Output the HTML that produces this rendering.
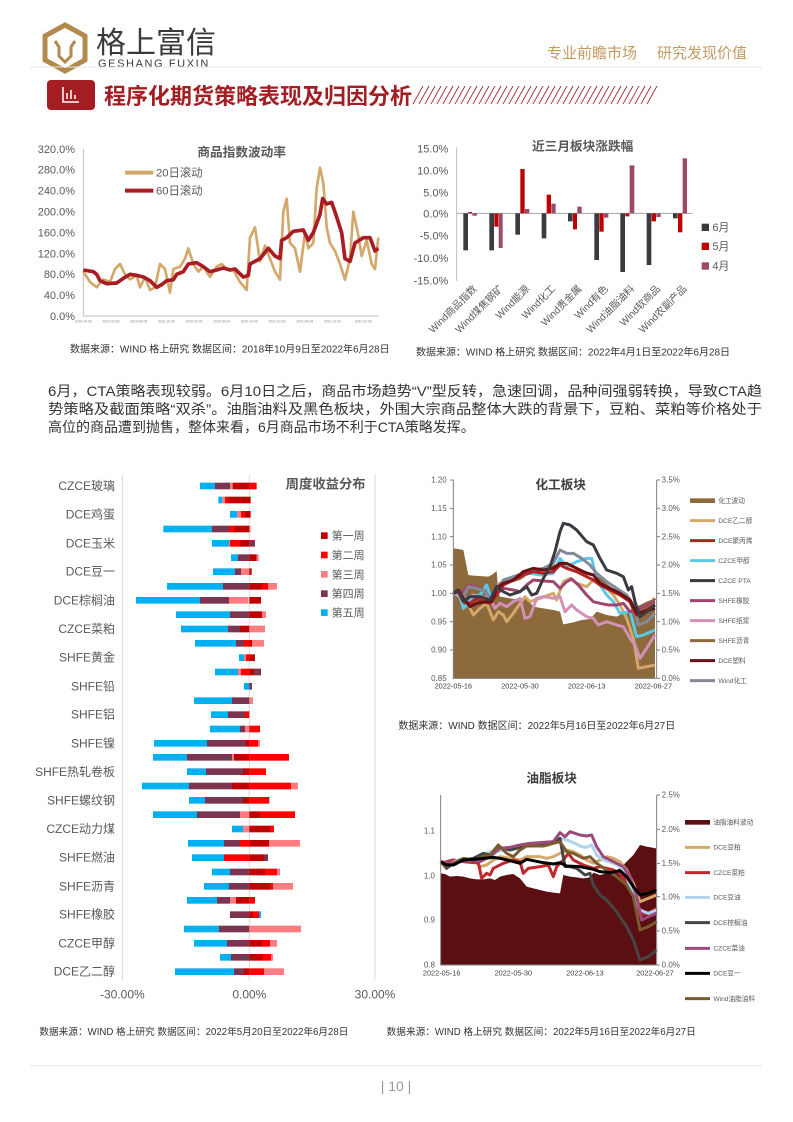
<!DOCTYPE html>
<html><head><meta charset="utf-8"><style>
html,body{margin:0;padding:0;background:#fff;}
svg{display:block;font-family:"Liberation Sans","Noto Sans CJK SC",sans-serif;}
</style></head><body>
<svg width="793" height="1122" viewBox="0 0 793 1122" xmlns="http://www.w3.org/2000/svg">
<!-- header -->
<polygon points="65,25 85,36 85,60 65,71 45,60 45,36" fill="none" stroke="#b28a4e" stroke-width="5"/>
<path d="M55,41 L59,47 L59,56 L65,62 L71,56 L71,47 L75,41" fill="none" stroke="#b28a4e" stroke-width="3"/>
<text x="96" y="53" font-size="30" fill="#3a3a3a">格上富信</text>
<text x="98" y="67" font-size="11" fill="#3a3a3a" letter-spacing="1.6">GESHANG FUXIN</text>
<text x="547" y="58" font-size="15" fill="#c49a63">专业前瞻市场</text>
<text x="657" y="58" font-size="15" fill="#c49a63">研究发现价值</text>
<line x1="30" y1="67" x2="762" y2="67" stroke="#e6e6e6" stroke-width="1"/>
<rect x="47" y="80" width="48" height="30" rx="4" fill="#a31e22"/>
<path d="M63,87 V102 H79 M67,99 V93 M71,99 V90 M75,99 V95" stroke="#fff" stroke-width="1.5" fill="none"/>
<text x="104" y="104" font-size="22" fill="#a31e22" font-weight="bold">程序化期货策略表现及归因分析</text>
<g stroke="#a31e22" stroke-width="0.8">
<path d="M413,104L423,86M419,104L429,86M425,104L435,86M431,104L441,86M437,104L447,86M443,104L453,86M449,104L459,86M455,104L465,86M461,104L471,86M467,104L477,86M473,104L483,86M479,104L489,86M485,104L495,86M491,104L501,86M497,104L507,86M503,104L513,86M509,104L519,86M515,104L525,86M521,104L531,86M527,104L537,86M533,104L543,86M539,104L549,86M545,104L555,86M551,104L561,86M557,104L567,86M563,104L573,86M569,104L579,86M575,104L585,86M581,104L591,86M587,104L597,86M593,104L603,86M599,104L609,86M605,104L615,86M611,104L621,86M617,104L627,86M623,104L633,86M629,104L639,86M635,104L645,86M641,104L651,86M647,104L657,86"/>
</g>

<!-- top-left chart -->
<g transform="translate(30,130) scale(0.33333)">
<g font-size="33" fill="#595959" text-anchor="end">
<text x="135" y="69">320.0%</text><text x="135" y="131">280.0%</text><text x="135" y="194">240.0%</text><text x="135" y="256">200.0%</text><text x="135" y="319">160.0%</text><text x="135" y="382">120.0%</text><text x="135" y="444">80.0%</text><text x="135" y="507">40.0%</text><text x="135" y="570">0.0%</text>
</g>
<line x1="160" y1="57" x2="160" y2="558" stroke="#bfbfbf" stroke-width="3"/>
<line x1="160" y1="558" x2="1045" y2="558" stroke="#bfbfbf" stroke-width="3"/>
<g font-size="10" fill="#888" text-anchor="middle">
<text x="160" y="578">2018-10-09</text><text x="243" y="578">2019-02-09</text><text x="326" y="578">2019-06-09</text><text x="409" y="578">2019-10-09</text><text x="492" y="578">2020-02-09</text><text x="575" y="578">2020-06-09</text><text x="658" y="578">2020-10-09</text><text x="741" y="578">2021-02-09</text><text x="824" y="578">2021-06-09</text><text x="907" y="578">2021-10-09</text><text x="1000" y="578">2022-02-09</text>
</g>
<text x="635" y="80" font-size="38" font-weight="bold" fill="#595959" text-anchor="middle">商品指数波动率</text>
<line x1="285" y1="128" x2="370" y2="128" stroke="#d4a76a" stroke-width="12"/>
<text x="378" y="140" font-size="34" fill="#595959">20日滚动</text>
<line x1="285" y1="182" x2="370" y2="182" stroke="#a81c22" stroke-width="12"/>
<text x="378" y="194" font-size="34" fill="#595959">60日滚动</text>
<polyline fill="none" stroke="#d4a76a" stroke-width="8" stroke-linejoin="round" points="160,425 180,456 200,472 220,448 240,456 255,417 270,402 285,433 300,448 320,436 330,472 345,441 360,480 375,472 390,402 405,417 420,488 430,417 450,410 465,386 475,355 490,402 505,425 520,410 540,441 560,410 575,402 590,417 610,420 630,456 650,480 660,323 675,292 690,394 705,347 720,386 735,425 750,449 760,245 770,206 780,339 795,355 810,425 825,308 835,355 850,339 860,175 870,113 880,159 890,292 900,339 915,363 930,402 945,449 960,386 970,245 985,316 995,378 1010,331 1025,402 1035,417 1045,323"/>
<polyline fill="none" stroke="#a81c22" stroke-width="11" stroke-linejoin="round" points="160,420 190,425 200,433 210,452 230,461 260,459 280,445 300,433 320,436 340,441 360,452 380,472 395,464 410,452 430,449 440,433 460,425 475,402 500,398 520,410 540,425 560,420 580,414 600,420 615,417 640,441 655,436 660,402 690,386 715,355 735,378 750,386 755,331 770,323 790,304 820,300 835,331 850,308 870,253 878,206 890,222 905,217 920,261 935,308 945,386 960,394 975,339 1000,323 1020,323 1035,363 1045,355"/>
<text x="120" y="667" font-size="30" fill="#333">数据来源：WIND   格上研究   数据区间：2018年10月9日至2022年6月28日</text>
</g>

<!-- top-right chart -->
<g transform="translate(400,130) scale(0.33333)">
<g font-size="33" fill="#595959" text-anchor="end">
<text x="145" y="67">15.0%</text><text x="145" y="133">10.0%</text><text x="145" y="200">5.0%</text><text x="145" y="262">0.0%</text><text x="145" y="329">-5.0%</text><text x="145" y="396">-10.0%</text><text x="145" y="463">-15.0%</text>
</g>
<line x1="170" y1="52" x2="170" y2="453" stroke="#bfbfbf" stroke-width="3"/>
<line x1="170" y1="250" x2="878" y2="250" stroke="#a6a6a6" stroke-width="3"/>
<text x="548" y="62" font-size="38" font-weight="bold" fill="#595959" text-anchor="middle">近三月板块涨跌幅</text>
<g>
<rect x="190" y="250" width="14" height="111" fill="#3a3b40"/><rect x="205" y="246" width="11" height="4" fill="#c00000"/><rect x="217" y="250" width="14" height="7" fill="#9b4a6b"/>
<rect x="268" y="250" width="14" height="111" fill="#3a3b40"/><rect x="283" y="250" width="12" height="40" fill="#c00000"/><rect x="296" y="250" width="12" height="104" fill="#9b4a6b"/>
<rect x="346" y="250" width="14" height="64" fill="#3a3b40"/><rect x="361" y="117" width="13" height="133" fill="#c00000"/><rect x="375" y="237" width="13" height="13" fill="#9b4a6b"/>
<rect x="425" y="250" width="14" height="75" fill="#3a3b40"/><rect x="440" y="194" width="13" height="56" fill="#c00000"/><rect x="454" y="221" width="13" height="29" fill="#9b4a6b"/>
<rect x="504" y="250" width="14" height="24" fill="#3a3b40"/><rect x="519" y="250" width="12" height="48" fill="#c00000"/><rect x="532" y="230" width="13" height="20" fill="#9b4a6b"/>
<rect x="583" y="250" width="14" height="140" fill="#3a3b40"/><rect x="598" y="250" width="13" height="55" fill="#c00000"/><rect x="612" y="250" width="13" height="13" fill="#9b4a6b"/>
<rect x="661" y="250" width="14" height="176" fill="#3a3b40"/><rect x="676" y="250" width="12" height="9" fill="#c00000"/><rect x="689" y="106" width="14" height="144" fill="#9b4a6b"/>
<rect x="740" y="250" width="14" height="155" fill="#3a3b40"/><rect x="755" y="250" width="13" height="24" fill="#c00000"/><rect x="769" y="250" width="13" height="11" fill="#9b4a6b"/>
<rect x="819" y="250" width="14" height="15" fill="#3a3b40"/><rect x="834" y="250" width="13" height="57" fill="#c00000"/><rect x="848" y="85" width="13" height="165" fill="#9b4a6b"/>
</g>
<rect x="905" y="281" width="22" height="22" fill="#3a3b40"/><text x="937" y="303" font-size="33" fill="#595959">6月</text>
<rect x="905" y="338" width="22" height="22" fill="#c00000"/><text x="937" y="360" font-size="33" fill="#595959">5月</text>
<rect x="905" y="397" width="22" height="22" fill="#9b4a6b"/><text x="937" y="419" font-size="33" fill="#595959">4月</text>
<g font-size="30" fill="#595959" text-anchor="end">
<text transform="translate(232,478) rotate(-45)">Wind商品指数</text>
<text transform="translate(311,478) rotate(-45)">Wind煤焦钢矿</text>
<text transform="translate(390,478) rotate(-45)">Wind能源</text>
<text transform="translate(468,478) rotate(-45)">Wind化工</text>
<text transform="translate(547,478) rotate(-45)">Wind贵金属</text>
<text transform="translate(626,478) rotate(-45)">Wind有色</text>
<text transform="translate(705,478) rotate(-45)">Wind油脂油料</text>
<text transform="translate(783,478) rotate(-45)">Wind软商品</text>
<text transform="translate(862,478) rotate(-45)">Wind农副产品</text>
</g>
<text x="48" y="676" font-size="30" fill="#333">数据来源：WIND     格上研究  数据区间：2022年4月1日至2022年6月28日</text>
</g>

<!-- paragraph -->
<g font-size="14" fill="#333">
<text x="48" y="396" textLength="714" lengthAdjust="spacingAndGlyphs">6月，CTA策略表现较弱。6月10日之后，商品市场趋势“V”型反转，急速回调，品种间强弱转换，导致CTA趋</text>
<text x="48" y="414" textLength="714" lengthAdjust="spacingAndGlyphs">势策略及截面策略“双杀”。油脂油料及黑色板块，外围大宗商品整体大跌的背景下，豆粕、菜粕等价格处于</text>
<text x="48" y="432">高位的商品遭到抛售，整体来看，6月商品市场不利于CTA策略发挥。</text>
</g>

<!-- bottom-left chart -->
<g transform="translate(30,465) scale(0.33333)">
<line x1="277" y1="30" x2="277" y2="1545" stroke="#d9d9d9" stroke-width="3"/>
<line x1="658" y1="30" x2="658" y2="1545" stroke="#d9d9d9" stroke-width="3"/>
<line x1="1035" y1="30" x2="1035" y2="1545" stroke="#d9d9d9" stroke-width="3"/>
<text x="887" y="70" font-size="40" font-weight="bold" fill="#595959" text-anchor="middle">周度收益分布</text>
<rect x="873" y="202" width="20" height="20" fill="#c00000"/><text x="905" y="224" font-size="33" fill="#595959">第一周</text>
<rect x="873" y="260" width="20" height="20" fill="#ff0000"/><text x="905" y="282" font-size="33" fill="#595959">第二周</text>
<rect x="873" y="318" width="20" height="20" fill="#ff7c80"/><text x="905" y="340" font-size="33" fill="#595959">第三周</text>
<rect x="873" y="376" width="20" height="20" fill="#7b3550"/><text x="905" y="398" font-size="33" fill="#595959">第四周</text>
<rect x="873" y="433" width="20" height="20" fill="#00b0f0"/><text x="905" y="455" font-size="33" fill="#595959">第五周</text>
<g font-size="36" fill="#595959" text-anchor="end">
<text x="255" y="75">CZCE玻璃</text><text x="255" y="161">DCE鸡蛋</text><text x="255" y="247">DCE玉米</text><text x="255" y="332">DCE豆一</text><text x="255" y="418">DCE棕榈油</text><text x="255" y="504">CZCE菜粕</text><text x="255" y="590">SHFE黄金</text><text x="255" y="676">SHFE铅</text><text x="255" y="761">SHFE铝</text><text x="255" y="847">SHFE镍</text>
</g>
<g>
<rect x="510" y="53" width="45" height="20" fill="#00b0f0"/><rect x="555" y="53" width="45" height="20" fill="#7b3550"/><rect x="600" y="53" width="8" height="20" fill="#ff7c80"/><rect x="608" y="53" width="50" height="20" fill="#c00000"/><rect x="658" y="53" width="22" height="20" fill="#ff0000"/>
<rect x="565" y="95" width="12" height="20" fill="#00b0f0"/><rect x="577" y="95" width="8" height="20" fill="#ff7c80"/><rect x="585" y="95" width="12" height="20" fill="#ff0000"/><rect x="597" y="95" width="65" height="20" fill="#c00000"/>
<rect x="600" y="138" width="22" height="20" fill="#00b0f0"/><rect x="622" y="138" width="11" height="20" fill="#ff7c80"/><rect x="633" y="138" width="12" height="20" fill="#ff0000"/><rect x="645" y="138" width="17" height="20" fill="#c00000"/>
<rect x="400" y="182" width="146" height="20" fill="#00b0f0"/><rect x="546" y="182" width="51" height="20" fill="#7b3550"/><rect x="597" y="182" width="15" height="20" fill="#ff0000"/><rect x="612" y="182" width="46" height="20" fill="#c00000"/><rect x="658" y="182" width="4" height="20" fill="#ff7c80"/>
<rect x="546" y="225" width="51" height="20" fill="#00b0f0"/><rect x="597" y="225" width="3" height="20" fill="#ff7c80"/><rect x="600" y="225" width="30" height="20" fill="#ff0000"/><rect x="630" y="225" width="28" height="20" fill="#c00000"/><rect x="658" y="225" width="17" height="20" fill="#7b3550"/>
<rect x="603" y="268" width="21" height="20" fill="#00b0f0"/><rect x="624" y="268" width="34" height="20" fill="#7b3550"/><rect x="658" y="268" width="22" height="20" fill="#c00000"/><rect x="680" y="268" width="6" height="20" fill="#ff7c80"/>
<rect x="549" y="310" width="66" height="20" fill="#00b0f0"/><rect x="615" y="310" width="18" height="20" fill="#7b3550"/><rect x="633" y="310" width="25" height="20" fill="#ff7c80"/><rect x="658" y="310" width="7" height="20" fill="#c00000"/>
<rect x="411" y="354" width="168" height="20" fill="#00b0f0"/><rect x="579" y="354" width="79" height="20" fill="#7b3550"/><rect x="658" y="354" width="38" height="20" fill="#c00000"/><rect x="696" y="354" width="18" height="20" fill="#ff0000"/><rect x="714" y="354" width="27" height="20" fill="#ff7c80"/>
<rect x="318" y="396" width="192" height="20" fill="#00b0f0"/><rect x="510" y="396" width="87" height="20" fill="#7b3550"/><rect x="597" y="396" width="58" height="20" fill="#ff7c80"/><rect x="658" y="396" width="35" height="20" fill="#c00000"/>
<rect x="438" y="439" width="162" height="20" fill="#00b0f0"/><rect x="600" y="439" width="58" height="20" fill="#7b3550"/><rect x="658" y="439" width="38" height="20" fill="#c00000"/><rect x="696" y="439" width="12" height="20" fill="#ff7c80"/>
<rect x="453" y="482" width="141" height="20" fill="#00b0f0"/><rect x="594" y="482" width="36" height="20" fill="#7b3550"/><rect x="630" y="482" width="28" height="20" fill="#c00000"/><rect x="658" y="482" width="47" height="20" fill="#ff7c80"/>
<rect x="495" y="525" width="123" height="20" fill="#00b0f0"/><rect x="618" y="525" width="24" height="20" fill="#7b3550"/><rect x="642" y="525" width="16" height="20" fill="#ff0000"/><rect x="658" y="525" width="8" height="20" fill="#c00000"/><rect x="666" y="525" width="36" height="20" fill="#ff7c80"/>
<rect x="627" y="568" width="15" height="20" fill="#00b0f0"/><rect x="642" y="568" width="6" height="20" fill="#ff7c80"/><rect x="648" y="568" width="10" height="20" fill="#ff0000"/><rect x="658" y="568" width="17" height="20" fill="#c00000"/>
<rect x="555" y="611" width="69" height="20" fill="#00b0f0"/><rect x="624" y="611" width="9" height="20" fill="#ff7c80"/><rect x="633" y="611" width="25" height="20" fill="#ff0000"/><rect x="658" y="611" width="14" height="20" fill="#c00000"/><rect x="672" y="611" width="21" height="20" fill="#7b3550"/>
<rect x="642" y="654" width="16" height="20" fill="#00b0f0"/><rect x="658" y="654" width="8" height="20" fill="#7b3550"/>
<rect x="492" y="697" width="114" height="20" fill="#00b0f0"/><rect x="606" y="697" width="52" height="20" fill="#7b3550"/><rect x="658" y="697" width="11" height="20" fill="#ff7c80"/>
<rect x="543" y="739" width="51" height="20" fill="#00b0f0"/><rect x="594" y="739" width="51" height="20" fill="#7b3550"/><rect x="645" y="739" width="13" height="20" fill="#ff0000"/>
<rect x="540" y="782" width="90" height="20" fill="#00b0f0"/><rect x="630" y="782" width="15" height="20" fill="#7b3550"/><rect x="645" y="782" width="13" height="20" fill="#ff7c80"/><rect x="658" y="782" width="32" height="20" fill="#ff0000"/>
<rect x="372" y="825" width="159" height="20" fill="#00b0f0"/><rect x="531" y="825" width="117" height="20" fill="#7b3550"/><rect x="648" y="825" width="10" height="20" fill="#c00000"/><rect x="658" y="825" width="26" height="20" fill="#ff0000"/><rect x="684" y="825" width="6" height="20" fill="#ff7c80"/>
</g>
</g>
<g transform="translate(30,750) scale(0.33333)">
<g font-size="36" fill="#595959" text-anchor="end">
<text x="255" y="78">SHFE热轧卷板</text><text x="255" y="164">SHFE螺纹钢</text><text x="255" y="249">CZCE动力煤</text><text x="255" y="335">SHFE燃油</text><text x="255" y="421">SHFE沥青</text><text x="255" y="506">SHFE橡胶</text><text x="255" y="592">CZCE甲醇</text><text x="255" y="677">DCE乙二醇</text>
</g>
<rect x="369" y="12" width="102" height="20" fill="#00b0f0"/><rect x="471" y="12" width="135" height="20" fill="#7b3550"/><rect x="606" y="12" width="6" height="20" fill="#ff7c80"/><rect x="612" y="12" width="46" height="20" fill="#c00000"/><rect x="658" y="12" width="119" height="20" fill="#ff0000"/>
<rect x="471" y="55" width="57" height="20" fill="#00b0f0"/><rect x="528" y="55" width="111" height="20" fill="#7b3550"/><rect x="639" y="55" width="19" height="20" fill="#c00000"/><rect x="658" y="55" width="50" height="20" fill="#ff0000"/>
<rect x="336" y="98" width="141" height="20" fill="#00b0f0"/><rect x="477" y="98" width="129" height="20" fill="#7b3550"/><rect x="606" y="98" width="52" height="20" fill="#c00000"/><rect x="658" y="98" width="125" height="20" fill="#ff0000"/><rect x="783" y="98" width="21" height="20" fill="#ff7c80"/>
<rect x="477" y="141" width="48" height="20" fill="#00b0f0"/><rect x="525" y="141" width="114" height="20" fill="#7b3550"/><rect x="639" y="141" width="19" height="20" fill="#c00000"/><rect x="658" y="141" width="60" height="20" fill="#ff0000"/>
<rect x="369" y="184" width="132" height="20" fill="#00b0f0"/><rect x="501" y="184" width="129" height="20" fill="#7b3550"/><rect x="630" y="184" width="28" height="20" fill="#ff7c80"/><rect x="658" y="184" width="32" height="20" fill="#c00000"/><rect x="690" y="184" width="105" height="20" fill="#ff0000"/>
<rect x="606" y="227" width="33" height="20" fill="#00b0f0"/><rect x="639" y="227" width="19" height="20" fill="#ff7c80"/><rect x="658" y="227" width="62" height="20" fill="#c00000"/><rect x="720" y="227" width="12" height="20" fill="#ff0000"/>
<rect x="474" y="270" width="108" height="20" fill="#00b0f0"/><rect x="582" y="270" width="48" height="20" fill="#7b3550"/><rect x="630" y="270" width="28" height="20" fill="#ff0000"/><rect x="658" y="270" width="59" height="20" fill="#c00000"/><rect x="717" y="270" width="93" height="20" fill="#ff7c80"/>
<rect x="486" y="313" width="96" height="20" fill="#00b0f0"/><rect x="582" y="313" width="76" height="20" fill="#ff0000"/><rect x="658" y="313" width="44" height="20" fill="#c00000"/><rect x="702" y="313" width="12" height="20" fill="#7b3550"/>
<rect x="546" y="356" width="54" height="20" fill="#00b0f0"/><rect x="600" y="356" width="58" height="20" fill="#7b3550"/><rect x="658" y="356" width="47" height="20" fill="#c00000"/><rect x="705" y="356" width="36" height="20" fill="#ff0000"/><rect x="741" y="356" width="9" height="20" fill="#ff7c80"/>
<rect x="522" y="399" width="75" height="20" fill="#00b0f0"/><rect x="597" y="399" width="61" height="20" fill="#7b3550"/><rect x="658" y="399" width="62" height="20" fill="#c00000"/><rect x="720" y="399" width="9" height="20" fill="#ff0000"/><rect x="729" y="399" width="60" height="20" fill="#ff7c80"/>
<rect x="471" y="441" width="90" height="20" fill="#00b0f0"/><rect x="561" y="441" width="39" height="20" fill="#7b3550"/><rect x="600" y="441" width="18" height="20" fill="#ff7c80"/><rect x="618" y="441" width="40" height="20" fill="#c00000"/><rect x="658" y="441" width="17" height="20" fill="#ff0000"/>
<rect x="600" y="484" width="58" height="20" fill="#7b3550"/><rect x="658" y="484" width="11" height="20" fill="#c00000"/><rect x="669" y="484" width="18" height="20" fill="#ff0000"/><rect x="687" y="484" width="6" height="20" fill="#00b0f0"/>
<rect x="462" y="527" width="105" height="20" fill="#00b0f0"/><rect x="567" y="527" width="91" height="20" fill="#7b3550"/><rect x="658" y="527" width="155" height="20" fill="#ff7c80"/>
<rect x="492" y="570" width="99" height="20" fill="#00b0f0"/><rect x="591" y="570" width="67" height="20" fill="#7b3550"/><rect x="658" y="570" width="38" height="20" fill="#c00000"/><rect x="696" y="570" width="24" height="20" fill="#ff0000"/><rect x="720" y="570" width="21" height="20" fill="#ff7c80"/>
<rect x="570" y="612" width="33" height="20" fill="#00b0f0"/><rect x="603" y="612" width="55" height="20" fill="#7b3550"/><rect x="658" y="612" width="41" height="20" fill="#c00000"/><rect x="699" y="612" width="24" height="20" fill="#ff0000"/><rect x="723" y="612" width="6" height="20" fill="#ff7c80"/>
<rect x="435" y="655" width="177" height="20" fill="#00b0f0"/><rect x="612" y="655" width="30" height="20" fill="#7b3550"/><rect x="642" y="655" width="16" height="20" fill="#c00000"/><rect x="658" y="655" width="44" height="20" fill="#ff0000"/><rect x="702" y="655" width="60" height="20" fill="#ff7c80"/>
<g font-size="36" fill="#595959" text-anchor="middle">
<text x="277" y="745">-30.00%</text><text x="658" y="745">0.00%</text><text x="1035" y="745">30.00%</text>
</g>
<text x="28" y="855" font-size="29" fill="#333">数据来源：WIND   格上研究    数据区间：2022年5月20日至2022年6月28日</text>
<text x="1070" y="855" font-size="29" fill="#333">数据来源：WIND   格上研究    数据区间：2022年5月16日至2022年6月27日</text>
</g>

<!-- 化工板块 -->
<g transform="translate(400,465) scale(0.33333)">
<text x="482" y="72" font-size="38" font-weight="bold" fill="#404040" text-anchor="middle">化工板块</text>
<polygon fill="#8c6a3c" points="160,640 160,250 175,252 190,255 205,330 220,332 265,335 275,330 290,318 295,385 300,395 330,400 360,405 380,400 400,425 430,430 460,435 480,440 490,478 520,472 545,465 570,462 590,440 620,450 650,455 670,445 700,430 720,420 740,410 765,400 765,640"/>
<g fill="none" stroke-width="9" stroke-linejoin="round">
<polyline stroke="#d4a76a" points="160,385 175,380 190,395 205,420 220,450 240,430 260,415 280,465 295,440 310,450 320,470 340,445 360,415 375,395 390,410 420,400 460,385 470,405 490,350 510,340 530,355 560,365 580,345 600,340 620,370 640,390 660,420 680,460 700,520 715,610 740,605 765,600"/>
<polyline stroke="#8c6a3c" points="160,385 180,388 200,395 230,400 260,405 280,410 300,355 330,350 360,340 390,320 420,315 460,305 490,295 520,305 550,320 580,330 600,345 630,370 660,390 690,410 710,460 740,430 765,400"/>
<polyline stroke="#d291b6" points="160,385 180,395 200,400 220,390 245,395 270,400 285,430 300,415 320,425 340,410 360,400 375,460 390,455 410,400 430,395 460,400 480,395 495,440 515,420 530,435 560,455 580,460 595,480 620,470 650,480 670,485 690,520 705,540 720,580 740,550 765,510"/>
<polyline stroke="#5bc8e8" points="160,385 175,380 190,430 200,420 220,395 240,390 260,360 275,405 290,380 310,355 340,340 370,330 390,325 420,330 460,325 480,280 500,305 530,290 560,280 575,280 590,345 620,390 640,410 660,445 690,440 710,515 730,510 765,495"/>
<polyline stroke="#a0456e" points="160,385 175,378 190,380 205,360 230,365 255,380 275,405 290,385 310,370 340,375 360,380 380,360 400,345 430,348 460,350 480,370 500,350 515,342 535,360 560,390 580,410 600,415 625,420 650,420 670,415 690,440 705,440 730,425 765,410"/>
<polyline stroke="#858a98" points="160,385 175,380 190,395 205,365 230,370 255,380 275,410 290,375 310,345 340,335 370,325 400,315 430,310 460,295 480,255 500,265 520,265 545,280 570,300 590,325 620,350 650,370 680,390 700,420 715,480 740,470 765,445"/>
<polyline stroke="#b22222" points="160,385 175,380 190,410 210,415 230,400 250,410 270,415 290,390 310,360 340,345 370,330 400,320 430,325 460,320 480,300 500,310 530,320 560,335 580,345 600,360 630,375 660,390 690,410 710,450 730,440 765,420"/>
<polyline stroke="#6b0f14" points="160,385 175,375 190,400 210,425 230,415 260,410 275,410 290,370 310,355 340,345 370,320 400,310 430,315 460,310 480,295 500,295 530,310 560,325 580,330 600,355 630,370 660,385 690,405 710,445 730,440 765,430"/>
<polyline stroke="#3a3b40" points="160,385 175,378 190,408 210,395 240,395 270,405 290,365 310,380 330,390 360,380 380,365 395,390 410,385 430,340 450,305 465,260 480,200 490,175 510,180 530,195 560,230 580,240 600,280 620,315 650,325 670,335 685,375 695,365 705,410 720,455 740,440 765,420"/>
</g>
<path d="M160,45 V640 H770 V45 M150,45H160M150,130H160M150,215H160M150,300H160M150,385H160M150,470H160M150,555H160M770,45H780M770,130H780M770,215H780M770,300H780M770,385H780M770,470H780M770,555H780M770,640H780" stroke="#7f7f7f" stroke-width="3" fill="none"/>
<g font-size="24" fill="#595959" text-anchor="end">
<text x="140" y="53">1.20</text><text x="140" y="138">1.15</text><text x="140" y="223">1.10</text><text x="140" y="308">1.05</text><text x="140" y="393">1.00</text><text x="140" y="478">0.95</text><text x="140" y="563">0.90</text><text x="140" y="648">0.85</text>
</g>
<g font-size="24" fill="#595959">
<text x="785" y="53">3.5%</text><text x="785" y="138">3.0%</text><text x="785" y="223">2.5%</text><text x="785" y="308">2.0%</text><text x="785" y="393">1.5%</text><text x="785" y="478">1.0%</text><text x="785" y="563">0.5%</text><text x="785" y="648">0.0%</text>
</g>
<g font-size="22" fill="#404040" text-anchor="middle">
<text x="160" y="670">2022-05-16</text><text x="360" y="670">2022-05-30</text><text x="560" y="670">2022-06-13</text><text x="760" y="670">2022-06-27</text>
</g>
<rect x="870" y="100" width="75" height="14" fill="#8c6a3c"/>
<g stroke-width="9">
<line x1="870" y1="167" x2="945" y2="167" stroke="#d4a76a"/><line x1="870" y1="227" x2="945" y2="227" stroke="#b22222"/><line x1="870" y1="287" x2="945" y2="287" stroke="#5bc8e8"/><line x1="870" y1="347" x2="945" y2="347" stroke="#3a3b40"/><line x1="870" y1="407" x2="945" y2="407" stroke="#a0456e"/><line x1="870" y1="467" x2="945" y2="467" stroke="#d291b6"/><line x1="870" y1="527" x2="945" y2="527" stroke="#8c6a3c"/><line x1="870" y1="587" x2="945" y2="587" stroke="#6b0f14"/><line x1="870" y1="647" x2="945" y2="647" stroke="#858a98"/>
</g>
<g font-size="20" fill="#595959">
<text x="955" y="114">化工波动</text><text x="955" y="174">DCE乙二醇</text><text x="955" y="234">DCE聚丙烯</text><text x="955" y="294">CZCE甲醇</text><text x="955" y="354">CZCE PTA</text><text x="955" y="414">SHFE橡胶</text><text x="955" y="474">SHFE纸浆</text><text x="955" y="534">SHFE沥青</text><text x="955" y="594">DCE塑料</text><text x="955" y="654">Wind化工</text>
</g>
<text x="-5" y="792" font-size="30" fill="#333">数据来源：WIND  数据区间：2022年5月16日至2022年6月27日</text>
</g>

<!-- 油脂板块 -->
<g transform="translate(400,760) scale(0.33333)">
<text x="455" y="68" font-size="38" font-weight="bold" fill="#404040" text-anchor="middle">油脂板块</text>
<polygon fill="#5c0f12" points="122,615 122,340 135,342 150,350 170,348 190,350 210,355 230,358 250,358 270,355 285,360 300,350 320,345 340,342 360,355 380,380 400,385 420,390 440,395 460,398 480,400 490,345 510,350 530,352 550,355 570,352 580,338 600,345 620,340 640,335 660,325 680,305 700,285 720,255 740,260 768,265 768,615"/>
<g fill="none" stroke-width="9" stroke-linejoin="round">
<polyline stroke="#d4a76a" points="122,305 140,315 160,305 190,300 220,300 240,320 260,315 280,300 300,290 330,295 360,300 380,290 400,290 420,290 440,295 460,290 480,280 500,270 520,275 540,285 560,300 580,310 600,300 620,290 640,295 660,305 680,330 700,370 720,425 745,415 770,405"/>
<polyline stroke="#c0282d" points="122,310 140,305 160,300 190,305 220,308 235,308 245,355 260,340 270,345 280,325 310,310 340,300 360,305 370,340 385,325 420,320 445,315 460,350 470,320 490,300 505,280 520,300 550,315 580,325 600,320 620,325 640,330 660,340 680,370 700,400 720,465 745,460 770,445"/>
<polyline stroke="#b0d4ee" points="122,305 150,310 180,298 210,302 240,295 270,275 300,272 330,270 360,265 380,258 400,255 430,252 460,245 480,235 500,240 520,248 545,260 560,262 575,255 590,285 610,300 640,310 660,320 680,350 700,405 720,450 745,460 770,450"/>
<polyline stroke="#454545" points="122,305 140,325 160,310 190,300 220,295 250,280 270,285 300,262 330,270 360,262 390,255 420,255 460,245 480,235 495,320 510,320 530,325 555,345 570,340 580,375 600,405 620,420 650,455 680,500 700,540 720,600 745,590 770,570"/>
<polyline stroke="#9b4a7b" points="122,305 150,310 180,305 210,300 240,305 270,290 300,265 330,262 360,255 390,250 420,248 460,245 480,218 495,230 510,215 540,225 560,228 575,225 590,260 610,290 640,305 670,320 690,350 710,410 725,480 745,470 770,460"/>
<polyline stroke="#7b5a30" points="122,305 140,320 160,310 190,295 220,300 250,290 270,285 295,255 320,280 340,290 360,270 380,258 400,258 430,258 460,250 480,245 500,275 520,280 550,295 570,290 590,310 620,330 650,350 680,375 700,410 720,510 745,500 770,485"/>
<polyline stroke="#000" points="122,305 140,315 160,315 190,300 220,298 250,295 280,292 300,295 330,302 360,310 380,298 400,302 430,308 460,312 480,308 500,318 540,320 580,328 600,335 630,338 660,332 680,350 700,380 720,405 745,400 770,390"/>
</g>
<path d="M122,105 V615 H770 V105 M770,105H780M770,208H780M770,310H780M770,410H780M770,513H780M770,615H780" stroke="#7f7f7f" stroke-width="3" fill="none"/>
<g font-size="24" fill="#595959" text-anchor="end">
<text x="105" y="220">1.1</text><text x="105" y="355">1.0</text><text x="105" y="488">0.9</text><text x="105" y="623">0.8</text>
</g>
<g font-size="24" fill="#595959">
<text x="785" y="113">2.5%</text><text x="785" y="216">2.0%</text><text x="785" y="318">1.5%</text><text x="785" y="418">1.0%</text><text x="785" y="521">0.5%</text><text x="785" y="623">0.0%</text>
</g>
<g font-size="22" fill="#404040" text-anchor="middle">
<text x="125" y="646">2022-05-16</text><text x="340" y="646">2022-05-30</text><text x="555" y="646">2022-06-13</text><text x="765" y="646">2022-06-27</text>
</g>
<rect x="855" y="180" width="75" height="14" fill="#5c0f12"/>
<g stroke-width="9">
<line x1="855" y1="262" x2="930" y2="262" stroke="#d4a76a"/><line x1="855" y1="338" x2="930" y2="338" stroke="#c0282d"/><line x1="855" y1="412" x2="930" y2="412" stroke="#b0d4ee"/><line x1="855" y1="488" x2="930" y2="488" stroke="#454545"/><line x1="855" y1="565" x2="930" y2="565" stroke="#9b4a7b"/><line x1="855" y1="640" x2="930" y2="640" stroke="#000"/><line x1="855" y1="716" x2="930" y2="716" stroke="#7b5a30"/>
</g>
<g font-size="20" fill="#595959">
<text x="940" y="194">油脂油料波动</text><text x="940" y="269">DCE豆粕</text><text x="940" y="345">CZCE菜粕</text><text x="940" y="419">DCE豆油</text><text x="940" y="495">DCE棕榈油</text><text x="940" y="572">CZCE菜油</text><text x="940" y="647">DCE豆一</text><text x="940" y="723">Wind油脂油料</text>
</g>
</g>

<!-- footer -->
<line x1="30" y1="1066" x2="762" y2="1066" stroke="#e6e6e6" stroke-width="1"/>
<text x="396" y="1091" font-size="14" fill="#999" text-anchor="middle">| 10 |</text>
</svg>
</body></html>
